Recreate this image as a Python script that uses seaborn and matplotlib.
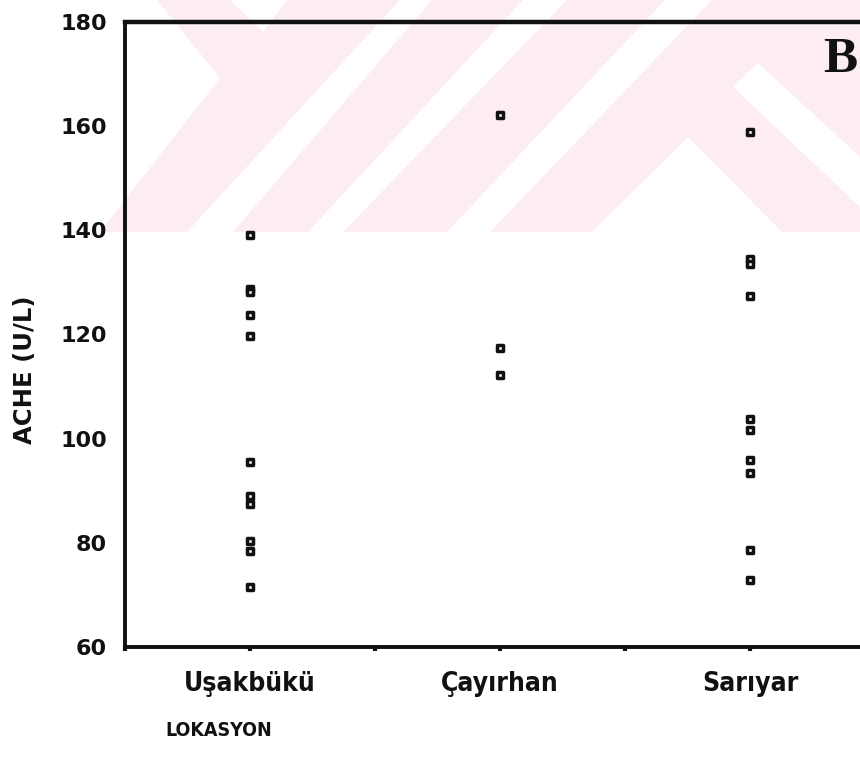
import matplotlib
matplotlib.use("Agg")
import matplotlib.pyplot as plt
from matplotlib.patches import Polygon
from matplotlib.ticker import FixedLocator
import seaborn as sns
import pandas as pd

# Serum AChE activity per sampling location
locations = ["Uşakbükü", "Çayırhan", "Sarıyar"]
usakbuku = [139.1, 128.7, 128.1, 123.7, 119.8, 95.6, 89.0, 87.5, 80.4, 78.4, 71.6]
cayirhan = [162.1, 117.5, 112.2]
sariyar = [158.9, 134.5, 133.5, 127.4, 103.8, 101.7, 96.0, 93.5, 78.7, 72.9]
y_ticks = [60, 80, 100, 120, 140, 160, 180]

df = pd.DataFrame({
    "LOKASYON": [locations[0]] * len(usakbuku)
    + [locations[1]] * len(cayirhan)
    + [locations[2]] * len(sariyar),
    "ACHE": usakbuku + cayirhan + sariyar,
})

sns.set_style("white")
plt.rcParams["font.family"] = ["DejaVu Sans"]

W, H = 860, 769
fig = plt.figure(figsize=(W / 100, H / 100), dpi=100)

# faint chevron watermark in the page background
bg = fig.add_axes([0, 0, 1, 1], zorder=0)
bg.set_xlim(0, W)
bg.set_ylim(H, 0)
bg.axis("off")
pink = "#fdedf0"
bg.add_patch(Polygon([(157, 0), (860, 0), (860, 232), (100, 232), (220, 78)],
                     closed=True, fc=pink, ec="none"))
for poly in [
    [(230, 0), (287, 0), (263, 32)],
    [(400, 0), (432, 0), (233, 232), (187, 232)],
    [(523, 0), (567, 0), (343, 232), (308, 232)],
    [(665, 0), (712, 0), (490, 232), (447, 232)],
    [(688, 137), (782, 232), (592, 232)],
    [(733, 87), (758, 63), (860, 157), (860, 207)],
]:
    bg.add_patch(Polygon(poly, closed=True, fc="white", ec="none"))

# plotting area: left spine at 125 px, categories 250 px apart
ax = fig.add_axes([125 / W, 1 - 647 / H, 750 / W, 625 / H], zorder=1)
ax.set_facecolor("none")

sns.stripplot(data=df, x="LOKASYON", y="ACHE", order=locations, jitter=False,
              marker="s", size=4.6, color="white", edgecolor="#111111",
              linewidth=2.5, ax=ax, zorder=3, clip_on=False)

ax.set_xlim(-0.5, 2.5)
ax.set_ylim(60, 180)
ax.set_yticks(y_ticks)
ax.set_yticklabels([str(t) for t in y_ticks])
ax.xaxis.set_minor_locator(FixedLocator([-0.5, 0.5, 1.5, 2.5]))

for side in ["left", "top", "bottom"]:
    ax.spines[side].set_visible(True)
    ax.spines[side].set_linewidth(2.8)
    ax.spines[side].set_color("#111111")
ax.spines["top"].set_linewidth(3.2)
ax.spines["right"].set_visible(False)

ax.tick_params(axis="y", which="major", direction="out", length=4, width=3.2,
               color="#111111", pad=9, labelsize=16, labelcolor="#111111")
for lab in ax.get_yticklabels():
    lab.set_fontweight("bold")
ax.tick_params(axis="x", which="both", direction="out", length=3, width=3,
               color="#111111", bottom=True)
ax.tick_params(axis="x", which="major", pad=14, labelsize=19, labelcolor="#111111")
for lab in ax.get_xticklabels():
    lab.set_fontweight("bold")
    lab.set_fontstretch("condensed")

ax.set_ylabel("ACHE (U/L)", fontsize=17.5, color="#111111", fontweight="bold",
              va="center")
ax.yaxis.set_label_coords(-(125 - 25) / 750, (647 - 370) / 625)
ax.set_xlabel("LOKASYON", fontsize=14, color="#111111", fontweight="bold",
              fontstretch="condensed", ha="left", va="center")
ax.xaxis.set_label_coords((165 - 125) / 750, -(731 - 647) / 625)

fig.text(823 / W, 1 - 72 / H, "B", fontsize=37, fontweight="bold",
         family=["Liberation Serif", "DejaVu Serif"], ha="left", va="baseline",
         color="#111111")

fig.savefig("out.png", dpi=100)
